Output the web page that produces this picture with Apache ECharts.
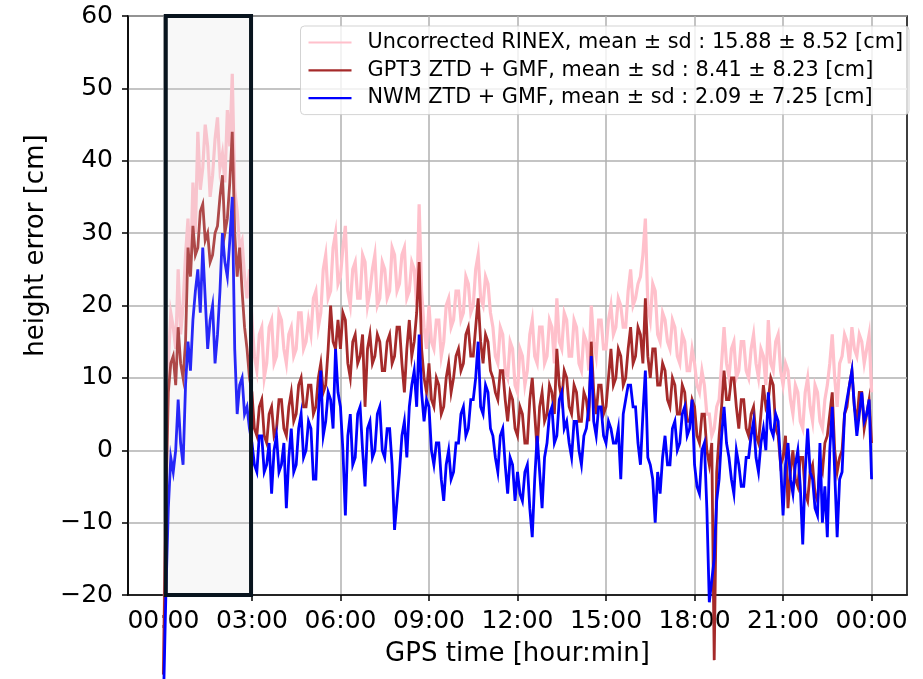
<!DOCTYPE html>
<html>
<head>
<meta charset="utf-8">
<script src="https://cdn.jsdelivr.net/npm/echarts@6/dist/echarts.min.js"></script>
<style>
html,body{margin:0;padding:0;background:#fff;}
#chart{width:923px;height:679px;}
</style>
</head>
<body>
<div id="chart"></div>
<script>
// ---- data (hours of day, 5-minute samples, 12 per row = 1 hour) ----
const stepMinutes = 5;
const seriesNames = [
  'Uncorrected RINEX, mean \u00b1 sd : 15.88 \u00b1 8.52 [cm]',
  'GPT3 ZTD + GMF, mean \u00b1 sd : 8.41 \u00b1 8.23 [cm]',
  'NWM ZTD + GMF, mean \u00b1 sd : 2.09 \u00b1 7.25 [cm]'
];
const seriesColors = ['#ffc0cb', '#a52a2a', '#0000ff'];

const uncorrected = [
  -31, -5, 12, 19, 17, 14, 25, 16, 20, 27, 32, 24,
  37, 30, 44, 36, 39, 45, 42, 35, 38, 43, 46, 39,
  41, 37, 47, 42, 52, 36, 33, 28, 29, 24, 21, 25,
  18, 13, 11, 16, 17, 10, 12, 17, 18, 12, 13, 19,
  18, 14, 12, 16, 17, 13, 14, 19, 19, 14, 15, 18,
  16, 21, 22, 17, 19, 25, 27, 21, 22, 28, 30, 23,
  24, 28, 31, 22, 20, 25, 26, 21, 21, 27, 26, 20,
  22, 25, 27, 20, 21, 26, 25, 21, 22, 28, 27, 22,
  23, 27, 28, 21, 22, 26, 25, 20, 34, 22, 17, 14,
  20, 15, 14, 18, 18, 13, 15, 20, 21, 17, 18, 22,
  22, 18, 19, 24, 23, 19, 20, 25, 27, 21, 20, 24,
  23, 19, 17, 13, 12, 17, 16, 11, 10, 15, 14, 9,
  8, 14, 13, 9, 11, 16, 18, 13, 12, 17, 17, 12,
  13, 18, 17, 12, 21, 15, 14, 19, 18, 13, 13, 18,
  17, 12, 11, 16, 15, 11, 20, 15, 13, 18, 18, 14,
  14, 18, 20, 16, 17, 21, 20, 17, 17, 22, 25, 20,
  21, 23, 24, 27, 32, 20, 18, 23, 22, 16, 15, 19,
  18, 15, 14, 18, 17, 13, 12, 16, 15, 11, 11, 14,
  12, 9, 8, 11, 9, 5, 5, 2, 3, 6, 7, 12,
  17, 12, 10, 14, 15, 10, 11, 15, 15, 11, 10, 14,
  16, 12, 10, 14, 13, 9, 18, 12, 11, 15, 16, 11,
  9, 12, 11, 7, 5, 9, 8, 4, 3, 8, 10, 6,
  4, 9, 8, 4, 3, 7, 9, 12, 16, 10, 6, 12,
  13, 16, 15, 12, 17, 14, 13, 16, 15, 12, 14, 16,
  8
];
const gpt3 = [
  -31, -8, 8, 12, 13, 9, 17, 12, 10, 15, 28, 24,
  31, 27, 28, 33, 34, 29, 30, 26, 27, 30, 31, 35,
  38, 30, 32, 37, 44, 30, 24, 28, 22, 17, 14, 10,
  8, 3, 2, 6, 7, 2, 1, 5, 6, 2, 3, 7,
  7, 3, 2, 6, 8, 4, 5, 9, 10, 6, 6, 9,
  9, 5, 6, 10, 12, 8, 9, 14, 20, 15, 14, 18,
  14, 19, 18, 12, 10, 15, 16, 12, 13, 16, 6, 14,
  16, 12, 13, 16, 15, 11, 11, 15, 16, 12, 13, 17,
  17, 12, 8, 14, 18, 13, 15, 19, 26, 14, 10, 8,
  12, 7, 6, 10, 9, 5, 6, 10, 12, 8, 10, 13,
  14, 11, 12, 16, 17, 13, 13, 17, 21, 15, 12, 16,
  15, 11, 10, 8, 7, 11, 11, 7, 4, 8, 7, 3,
  2, 6, 5, 1, 1, 7, 10, 5, 0, 6, 8, 4,
  5, 9, 8, 5, 14, 9, 7, 11, 10, 6, 5, 9,
  8, 4, 4, 8, 7, 4, 15, 8, 5, 9, 9, 5,
  6, 10, 14, 9, 10, 14, 13, 9, 10, 14, 17, 12,
  13, 17, 16, 12, 21, 13, 10, 14, 14, 9, 9, 12,
  11, 7, 6, 10, 9, 5, 5, 9, 8, 4, 4, 7,
  6, 2, 1, 5, 5, 0, -2, 1, -29, -3, 2, 6,
  11, 7, 7, 10, 10, 6, 3, 7, 7, 3, 2, 5,
  6, 2, 1, 5, 9, 6, 7, 10, 9, 3, 2, -2,
  -1, 2, -8, -3, 0, -4, -5, -1, -1, -6, -7, -3,
  -2, -6, -7, -2, -3, 1, 2, 5, 8, 0, -3, -1,
  0, 5, 6, 9, 11, 6, 4, 8, 8, 3, 5, 7,
  1
];
const nwm = [
  -35, -20, -8, -1, -3, 0, 7, 1, -2, 9, 15, 11,
  18, 22, 25, 19, 28, 21, 14, 18, 20, 12, 16, 22,
  30, 26, 24, 29, 35, 14, 5, 9, 10, 5, 6, 3,
  1, -2, -3, 2, 2, -3, -2, 1, -6, 0, 2, -3,
  -2, 1, -8, -1, 3, -3, -2, 3, 5, -1, 0, 4,
  3, -4, -4, 5, 11, 2, 4, 8, 7, 3, 14, 8,
  6, 0, -9, 2, 5, -2, -1, 5, 6, 0, -5, 3,
  4, -1, 0, 5, 6, 0, -1, 3, 3, -2, -11, -7,
  -3, 2, 4, -1, 6, 9, 11, 6, 16, 8, 4, 7,
  6, 0, -2, 1, 1, -4, -7, -2, 0, -4, -3, 1,
  1, 5, 6, 2, 3, 7, 7, 10, 15, 6, 5, 9,
  8, 3, 2, -1, -3, 2, 3, -2, -6, -1, -2, -7,
  -3, -6, -7, -3, -2, -8, -12, -4, 2, -3, -8, -1,
  1, 5, 6, 1, 2, 7, 8, 3, 4, 1, -1, 4,
  4, 0, -2, 2, 3, 6, 13, 4, 2, 6, 6, 2,
  1, 4, 3, 1, 1, 3, -4, 5, 7, 9, 9, 6,
  6, 1, -2, 5, 11, -1, -2, -4, -10, -3, -6, -1,
  2, -2, -2, 3, 4, 0, 1, 5, 6, 2, 3, 7,
  -2, -5, -6, 0, 1, -8, -21, -18, -15, -7, -4, 2,
  6, 1, -1, -4, -6, 0, -2, -5, -5, -1, -1, 2,
  4, -1, -3, 1, 3, 0, 8, 3, 2, 5, 4, -2,
  -9, -2, 1, -4, -6, -2, 0, -5, -13, -3, 3, -3,
  -4, -8, -9, 1, -10, -5, -12, 0, 6, -3, -12, -4,
  -3, 5, 7, 9, 11, 6, 2, 5, 8, 4, 5, 7,
  -4
];
const xTickHours = [0, 3, 6, 9, 12, 15, 18, 21, 24];
const highlightBox = [0.08, 2.97]; // hours
const xRange = [-1.2, 25.2];
const yRange = [-20, 60];

// ---- build ----
const hours = uncorrected.map((_, i) => i * stepMinutes / 60);
const toPairs = vals => vals.map((v, i) => [hours[i], v]);
const FONT = 'DejaVu Sans';
const widths = [3.2, 2.8, 2.8];

const lineSeries = [uncorrected, gpt3, nwm].map((vals, k) => ({
  name: seriesNames[k],
  type: 'line',
  data: toPairs(vals),
  showSymbol: false,
  symbol: 'none',
  clip: false,
  z: 2 + k,
  lineStyle: { color: seriesColors[k], width: widths[k], join: 'miter' },
  itemStyle: { color: seriesColors[k] },
  emphasis: { disabled: true }
}));

const boxSeries = {
  type: 'custom',
  z: 20,
  silent: true,
  clip: false,
  data: [highlightBox],
  encode: { x: [0, 1] },
  renderItem: (params, api) => {
    const p0 = api.coord([api.value(0), yRange[1]]);
    const p1 = api.coord([api.value(1), yRange[0]]);
    return {
      type: 'rect',
      shape: { x: p0[0], y: p0[1], width: p1[0] - p0[0], height: p1[1] - p0[1] },
      style: { fill: 'rgba(215,215,215,0.18)', stroke: '#08141e', lineWidth: 4 }
    };
  }
};

const chart = echarts.init(document.getElementById('chart'), null, { renderer: 'canvas' });
chart.setOption({
  animation: false,
  backgroundColor: '#ffffff',
  textStyle: { fontFamily: FONT },
  grid: { left: 128, right: 16, top: 16, bottom: 84, show: true, borderColor: '#000', borderWidth: 1.5, backgroundColor: 'transparent' },
  legend: {
    orient: 'vertical',
    right: 14,
    top: 26,
    icon: 'rect',
    itemWidth: 43,
    itemHeight: 2.2,
    itemGap: 6.8,
    padding: [6, 6, 6, 8],
    backgroundColor: 'rgba(255,255,255,0.8)',
    borderColor: 'rgba(200,200,200,0.8)',
    borderWidth: 1,
    borderRadius: 4,
    selectedMode: false,
    textStyle: { fontFamily: FONT, fontSize: 20.8, color: '#000', padding: [0, 0, 0, 11] },
    data: seriesNames
  },
  xAxis: {
    type: 'value',
    min: xRange[0],
    max: xRange[1],
    name: 'GPS time [hour:min]',
    nameLocation: 'middle',
    nameGap: 46,
    nameTextStyle: { fontFamily: FONT, fontSize: 26, color: '#000' },
    axisLine: { show: true, onZero: false, lineStyle: { color: '#000', width: 1.5 } },
    axisTick: { show: true, inside: false, length: 6, lineStyle: { color: '#000', width: 1.5 }, customValues: xTickHours },
    axisLabel: {
      show: true, fontFamily: FONT, fontSize: 25, color: '#000', margin: 14,
      customValues: xTickHours,
      formatter: v => String(Math.round(v) % 24).padStart(2, '0') + ':00'
    },
    splitLine: { show: true, lineStyle: { color: '#b0b0b0', width: 1.5 } }
  },
  yAxis: {
    type: 'value',
    min: yRange[0],
    max: yRange[1],
    interval: 10,
    name: 'height error [cm]',
    nameLocation: 'middle',
    nameGap: 76,
    nameTextStyle: { fontFamily: FONT, fontSize: 26, color: '#000', padding: [0, 0, 0, 120] },
    axisLine: { show: true, onZero: false, lineStyle: { color: '#000', width: 1.5 } },
    axisTick: { show: true, inside: false, length: 6, lineStyle: { color: '#000', width: 1.5 } },
    axisLabel: {
      fontFamily: FONT, fontSize: 25, color: '#000', margin: 15,
      formatter: v => (v < 0 ? '\u2212' + (-v) : String(v))
    },
    splitLine: { show: true, lineStyle: { color: '#b0b0b0', width: 1.5 } }
  },
  series: [...lineSeries, boxSeries]
});
</script>
</body>
</html>
